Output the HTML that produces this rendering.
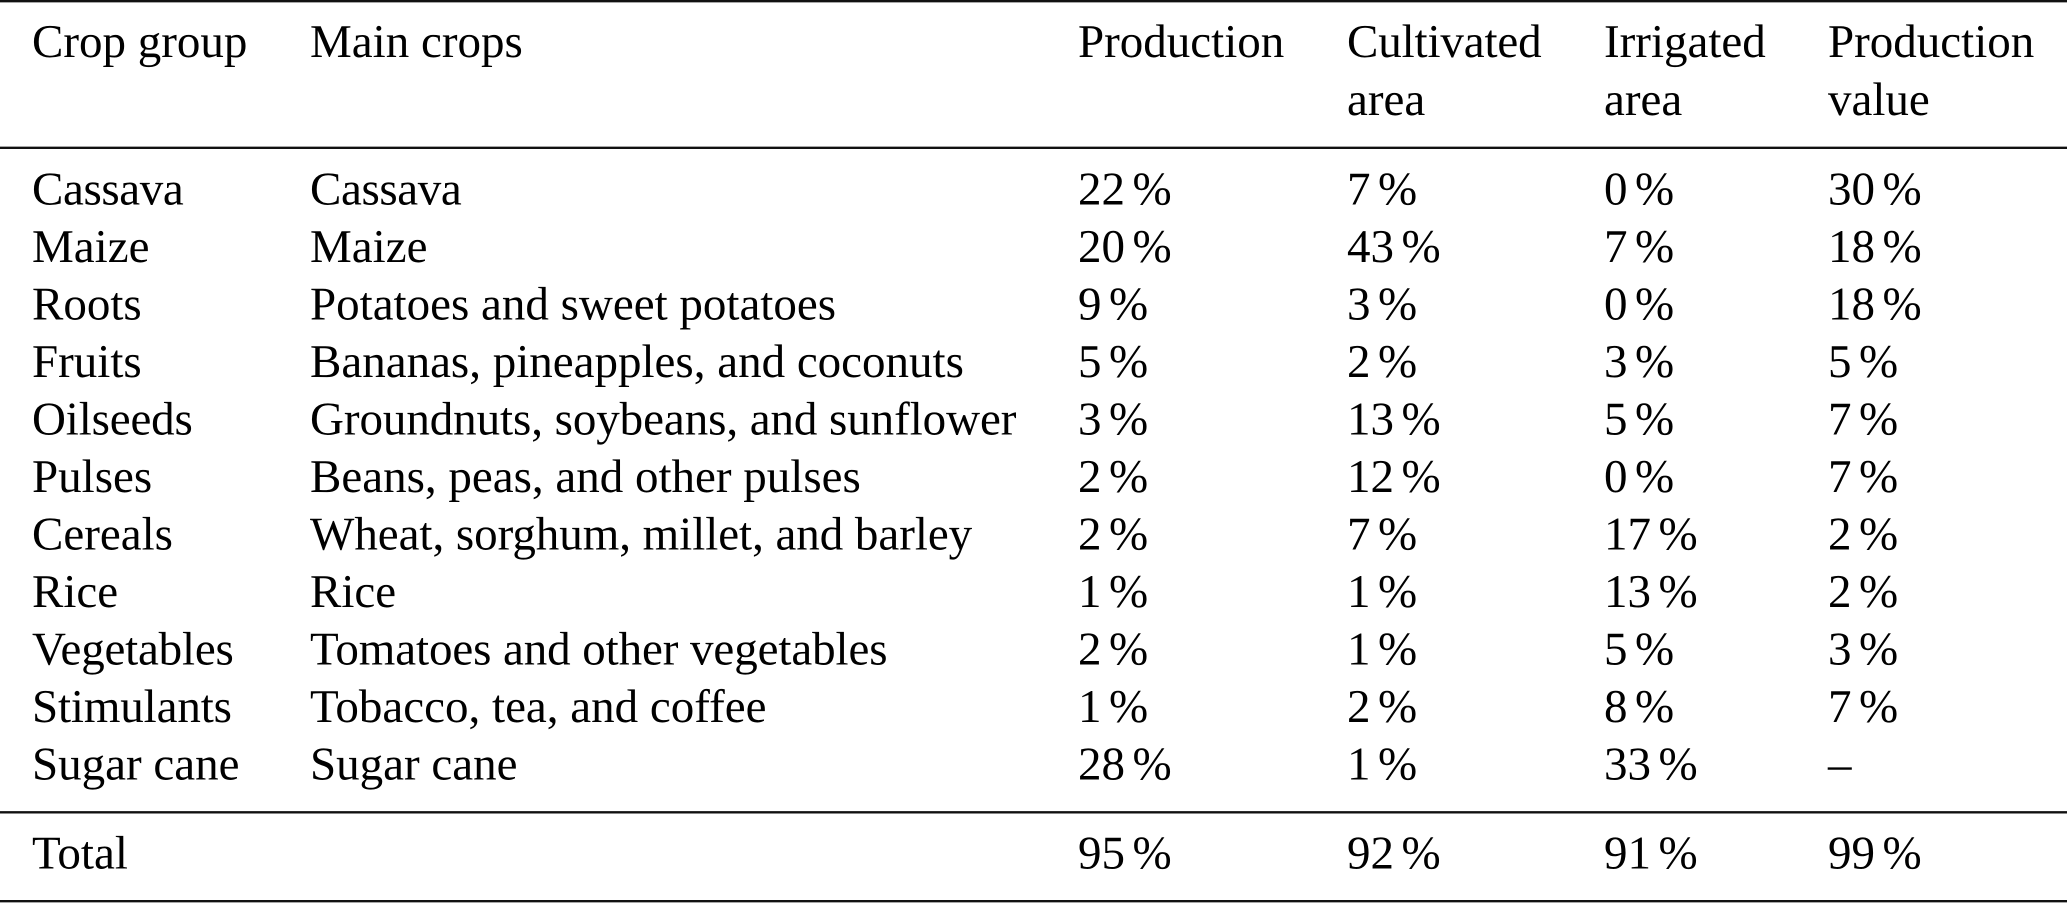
<!DOCTYPE html>
<html lang="en">
<head>
<meta charset="utf-8">
<title>Crop groups table</title>
<style>
html,body{margin:0;padding:0;background:#fff;}
svg{display:block;}
text{font-family:"Liberation Serif","Times New Roman",serif;font-size:47px;fill:#000;text-rendering:geometricPrecision;}
text.p{word-spacing:-4.25px;}
line{stroke:#111;stroke-width:2.4;}
</style>
</head>
<body>
<svg xmlns="http://www.w3.org/2000/svg" width="2067" height="903" viewBox="0 0 2067 903">
<rect width="2067" height="903" fill="#fff"/>
<line x1="0" x2="2067" y1="1.2" y2="1.2"/>
<line x1="0" x2="2067" y1="147.8" y2="147.8"/>
<line x1="0" x2="2067" y1="812.3" y2="812.3"/>
<line x1="0" x2="2067" y1="901.2" y2="901.2"/>

<g>
<text x="32" y="57">Crop group</text>
<text x="310" y="57">Main crops</text>
<text x="1078" y="57">Production</text>
<text x="1347" y="57" style="letter-spacing:-.13px">Cultivated</text>
<text x="1347" y="115">area</text>
<text x="1604" y="57">Irrigated</text>
<text x="1604" y="115">area</text>
<text x="1828" y="57">Production</text>
<text x="1828" y="115">value</text>
</g>

<g>
<text x="32" y="204.4" style="letter-spacing:-.37px">Cassava</text>
<text x="310" y="204.4" style="letter-spacing:-.37px">Cassava</text>
<text class="p" x="1078" y="204.4">22 %</text>
<text class="p" x="1347" y="204.4">7 %</text>
<text class="p" x="1604" y="204.4">0 %</text>
<text class="p" x="1828" y="204.4">30 %</text>
</g>
<g>
<text x="32" y="261.9">Maize</text>
<text x="310" y="261.9">Maize</text>
<text class="p" x="1078" y="261.9">20 %</text>
<text class="p" x="1347" y="261.9">43 %</text>
<text class="p" x="1604" y="261.9">7 %</text>
<text class="p" x="1828" y="261.9">18 %</text>
</g>
<g>
<text x="32" y="319.4">Roots</text>
<text x="310" y="319.4">Potatoes and sweet potatoes</text>
<text class="p" x="1078" y="319.4">9 %</text>
<text class="p" x="1347" y="319.4">3 %</text>
<text class="p" x="1604" y="319.4">0 %</text>
<text class="p" x="1828" y="319.4">18 %</text>
</g>
<g>
<text x="32" y="376.9">Fruits</text>
<text x="310" y="376.9">Bananas, pineapples, and coconuts</text>
<text class="p" x="1078" y="376.9">5 %</text>
<text class="p" x="1347" y="376.9">2 %</text>
<text class="p" x="1604" y="376.9">3 %</text>
<text class="p" x="1828" y="376.9">5 %</text>
</g>
<g>
<text x="32" y="434.4" style="letter-spacing:-.15px">Oilseeds</text>
<text x="310" y="434.4" style="letter-spacing:-.07px">Groundnuts, soybeans, and sunflower</text>
<text class="p" x="1078" y="434.4">3 %</text>
<text class="p" x="1347" y="434.4">13 %</text>
<text class="p" x="1604" y="434.4">5 %</text>
<text class="p" x="1828" y="434.4">7 %</text>
</g>
<g>
<text x="32" y="491.9">Pulses</text>
<text x="310" y="491.9">Beans, peas, and other pulses</text>
<text class="p" x="1078" y="491.9">2 %</text>
<text class="p" x="1347" y="491.9">12 %</text>
<text class="p" x="1604" y="491.9">0 %</text>
<text class="p" x="1828" y="491.9">7 %</text>
</g>
<g>
<text x="32" y="549.4">Cereals</text>
<text x="310" y="549.4" style="letter-spacing:-.04px">Wheat, sorghum, millet, and barley</text>
<text class="p" x="1078" y="549.4">2 %</text>
<text class="p" x="1347" y="549.4">7 %</text>
<text class="p" x="1604" y="549.4">17 %</text>
<text class="p" x="1828" y="549.4">2 %</text>
</g>
<g>
<text x="32" y="606.9">Rice</text>
<text x="310" y="606.9">Rice</text>
<text class="p" x="1078" y="606.9">1 %</text>
<text class="p" x="1347" y="606.9">1 %</text>
<text class="p" x="1604" y="606.9">13 %</text>
<text class="p" x="1828" y="606.9">2 %</text>
</g>
<g>
<text x="32" y="664.4" style="letter-spacing:-.2px">Vegetables</text>
<text x="310" y="664.4" style="letter-spacing:-.09px">Tomatoes and other vegetables</text>
<text class="p" x="1078" y="664.4">2 %</text>
<text class="p" x="1347" y="664.4">1 %</text>
<text class="p" x="1604" y="664.4">5 %</text>
<text class="p" x="1828" y="664.4">3 %</text>
</g>
<g>
<text x="32" y="721.9" style="letter-spacing:-.13px">Stimulants</text>
<text x="310" y="721.9">Tobacco, tea, and coffee</text>
<text class="p" x="1078" y="721.9">1 %</text>
<text class="p" x="1347" y="721.9">2 %</text>
<text class="p" x="1604" y="721.9">8 %</text>
<text class="p" x="1828" y="721.9">7 %</text>
</g>
<g>
<text x="32" y="779.4">Sugar cane</text>
<text x="310" y="779.4">Sugar cane</text>
<text class="p" x="1078" y="779.4">28 %</text>
<text class="p" x="1347" y="779.4">1 %</text>
<text class="p" x="1604" y="779.4">33 %</text>
<text x="1828" y="779.4">–</text>
</g>
<g>
<text x="32" y="868.3">Total</text>
<text class="p" x="1078" y="868.3">95 %</text>
<text class="p" x="1347" y="868.3">92 %</text>
<text class="p" x="1604" y="868.3">91 %</text>
<text class="p" x="1828" y="868.3">99 %</text>
</g>
</svg>
</body>
</html>
